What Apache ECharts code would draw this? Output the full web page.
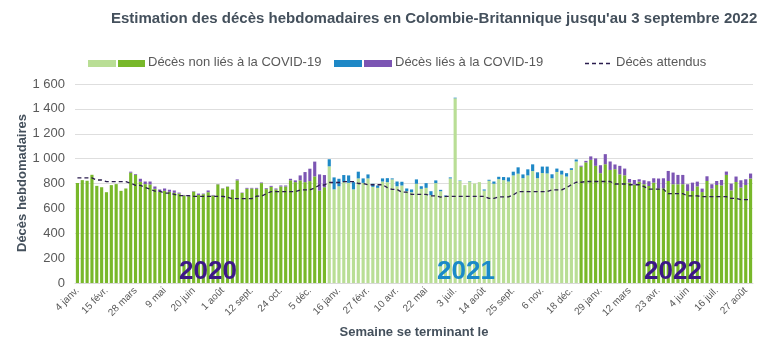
<!DOCTYPE html>
<html>
<head>
<meta charset="utf-8">
<script src="https://cdn.jsdelivr.net/npm/echarts@6/dist/echarts.min.js"></script>
<style>
  html, body { margin: 0; padding: 0; background: #fff; }
  #chart { width: 770px; height: 353px; }
</style>
</head>
<body>
<div id="chart"></div>
<script>
// semaines se terminant le samedi, du 4 janv. 2020 au 3 sept. 2022
var firstWeek = '2020-01-04';
var weekCount = 140;
var monthNames = ['janv.', 'févr.', 'mars', 'avr.', 'mai', 'juin', 'juil.', 'août', 'sept.', 'oct.', 'nov.', 'déc.'];

// décès non liés à la COVID-19
var nonCovid2020 = [804, 827, 822, 870, 781, 770, 730, 787, 795, 741, 760, 887, 870, 814, 795, 792, 757, 733, 741, 733,
  725, 719, 703, 698, 735, 708, 714, 730, 703, 793, 760, 774, 750, 825, 724, 758, 760, 758, 803, 755,
  773, 752, 776, 776, 826, 811, 825, 811, 819, 857, 743, 770];
var nonCovid2021 = [938, 753, 778, 811, 805, 753, 841, 805, 841, 773, 765, 816, 811, 833, 778, 784, 738, 730, 798, 757,
  765, 706, 803, 738, 695, 841, 1485, 822, 787, 816, 800, 811, 743, 822, 798, 835, 827, 816, 865, 879,
  843, 865, 900, 843, 884, 881, 842, 893, 872, 856, 909, 977];
var nonCovid2022 = [935, 970, 990, 942, 883, 955, 909, 915, 874, 866, 807, 791, 815, 794, 780, 807, 761, 761, 820, 794,
  794, 794, 739, 739, 777, 731, 820, 759, 788, 785, 869, 745, 812, 767, 788, 840];

// décès liés à la COVID-19
var covid2020 = [0, 0, 0, 0, 0, 0, 0, 0, 0, 0, 0, 8, 6, 24, 21, 24, 19, 19, 19, 17,
  19, 8, 5, 5, 3, 11, 5, 14, 5, 2, 2, 2, 2, 8, 3, 7, 5, 7, 5, 7,
  8, 8, 8, 8, 12, 14, 40, 81, 100, 119, 130, 98];
var covid2021 = [57, 96, 60, 57, 60, 58, 54, 36, 32, 25, 19, 25, 32, 8, 38, 30, 22, 22, 35, 21,
  38, 32, 22, 11, 8, 8, 5, 3, 0, 3, 0, 0, 9, 8, 18, 19, 25, 33, 30, 51,
  30, 49, 54, 47, 52, 55, 32, 27, 31, 27, 14, 16];
var covid2022 = [8, 12, 28, 60, 64, 81, 68, 38, 68, 54, 29, 37, 19, 32, 38, 35, 79, 81, 81, 94,
  75, 75, 55, 68, 38, 28, 38, 35, 32, 43, 27, 54, 44, 59, 46, 40];

// décès attendus
var expected2020 = [845, 845, 845, 845, 828, 828, 815, 815, 815, 815, 815, 802, 785, 785, 768, 755, 738, 738, 722, 722,
  713, 703, 703, 703, 697, 697, 697, 697, 697, 697, 697, 690, 678, 678, 678, 678, 678, 698, 698, 718,
  735, 735, 735, 735, 735, 735, 748, 748, 748, 765, 788, 788];
var expected2021 = [808, 808, 808, 815, 815, 815, 800, 800, 790, 790, 790, 790, 767, 752, 752, 730, 730, 713, 713, 713,
  713, 700, 700, 690, 697, 697, 697, 697, 697, 697, 697, 697, 697, 680, 680, 692, 692, 692, 708, 735,
  735, 735, 735, 735, 735, 735, 749, 749, 749, 767, 790, 810];
var expected2022 = [810, 816, 816, 816, 816, 816, 816, 796, 796, 796, 790, 790, 790, 775, 755, 755, 755, 755, 718, 718,
  718, 718, 700, 700, 700, 694, 694, 694, 694, 694, 694, 680, 680, 670, 670, 670];

var yearLabels = ['2020', '2021', '2022'];

var weeks = [];
var d0 = new Date(firstWeek + 'T12:00:00Z');
for (var i = 0; i < weekCount; i++) {
  var d = new Date(d0.getTime() + i * 7 * 86400000);
  weeks.push(d.getUTCDate() + ' ' + monthNames[d.getUTCMonth()]);
}

var nonCovid = nonCovid2020.concat(nonCovid2021, nonCovid2022);
var covid = covid2020.concat(covid2021, covid2022);
var expected = expected2020.concat(expected2021, expected2022);

var y2021 = nonCovid2020.length;
var y2022 = y2021 + nonCovid2021.length;
function is2021(idx) { return idx >= y2021 && idx < y2022; }

var cDark = '#78b82a', cLight = '#b9de95', cBlue = '#1e88c6', cPurple = '#7c55b3';
var txt = '#595959', axisTitle = '#44505c';

var myChart = echarts.init(document.getElementById('chart'));

var option = {
  animation: false,
  backgroundColor: '#fff',
  title: {
    text: "Estimation des décès hebdomadaires en Colombie-Britannique jusqu'au 3 septembre 2022",
    left: 106,
    top: 6,
    textStyle: { fontFamily: 'Liberation Sans', fontSize: 15, fontWeight: 'bold', color: axisTitle }
  },
  grid: { left: 75, right: 17, top: 84, bottom: 70 },
  xAxis: {
    type: 'category',
    data: weeks,
    name: 'Semaine se terminant le',
    nameLocation: 'middle',
    nameGap: 43,
    nameTextStyle: { fontFamily: 'Liberation Sans', fontSize: 13, fontWeight: 'bold', color: axisTitle },
    axisLine: { lineStyle: { color: '#d9d9d9' } },
    axisTick: { show: false },
    axisLabel: {
      interval: 5,
      rotate: 45,
      fontFamily: 'Liberation Sans',
      fontSize: 10,
      color: txt,
      margin: 6
    }
  },
  yAxis: {
    type: 'value',
    min: 0,
    max: 1600,
    interval: 200,
    axisLabel: {
      fontFamily: 'Liberation Sans',
      fontSize: 13,
      color: txt,
      margin: 10,
      formatter: function (v) {
        return v >= 1000 ? Math.floor(v / 1000) + '\u00a0' + String(v % 1000).padStart(3, '0') : String(v);
      }
    },
    splitLine: { lineStyle: { color: '#dedede' } }
  },
  series: [
    {
      name: 'Décès non liés à la COVID-19',
      type: 'bar',
      stack: 'deces',
      data: nonCovid,
      barCategoryGap: '35%',
      itemStyle: {
        color: function (p) { return is2021(p.dataIndex) ? cLight : cDark; }
      }
    },
    {
      name: 'Décès liés à la COVID-19',
      type: 'bar',
      stack: 'deces',
      data: covid,
      itemStyle: {
        color: function (p) { return is2021(p.dataIndex) ? cBlue : cPurple; }
      }
    },
    {
      name: 'Décès attendus',
      type: 'line',
      data: expected,
      symbol: 'none',
      z: 5,
      lineStyle: { color: '#2b1d4e', width: 1.3, type: [4, 3] }
    }
  ],
  graphic: [
    // titre de l'axe y
    {
      type: 'text', x: 22, y: 183, rotation: Math.PI / 2,
      style: { text: 'Décès hebdomadaires', font: 'bold 13px "Liberation Sans"', fill: axisTitle, align: 'center', verticalAlign: 'middle' }
    },
    // légende
    { type: 'rect', left: 88, top: 60, shape: { width: 28, height: 7 }, style: { fill: cLight } },
    { type: 'rect', left: 118, top: 60, shape: { width: 27, height: 7 }, style: { fill: cDark } },
    { type: 'text', left: 148, top: 56, style: { text: 'Décès non liés à la COVID-19', font: '13px "Liberation Sans"', fill: txt } },
    { type: 'rect', left: 334, top: 60, shape: { width: 28, height: 7 }, style: { fill: cBlue } },
    { type: 'rect', left: 364, top: 60, shape: { width: 28, height: 7 }, style: { fill: cPurple } },
    { type: 'text', left: 395, top: 56, style: { text: 'Décès liés à la COVID-19', font: '13px "Liberation Sans"', fill: txt } },
    { type: 'line', shape: { x1: 585, y1: 63.5, x2: 612, y2: 63.5 }, style: { stroke: '#2b1d4e', lineWidth: 1.3, lineDash: [4, 3] } },
    { type: 'text', left: 616, top: 56, style: { text: 'Décès attendus', font: '13px "Liberation Sans"', fill: txt } },
    // années
    { type: 'text', left: 179, top: 259, z: 10, style: { text: yearLabels[0], font: 'bold 26px "Liberation Sans"', fill: '#3d1786' } },
    { type: 'text', left: 437, top: 259, z: 10, style: { text: yearLabels[1], font: 'bold 26px "Liberation Sans"', fill: '#1b8ac8' } },
    { type: 'text', left: 644, top: 259, z: 10, style: { text: yearLabels[2], font: 'bold 26px "Liberation Sans"', fill: '#3d1786' } }
  ]
};

myChart.setOption(option);
</script>
</body>
</html>
